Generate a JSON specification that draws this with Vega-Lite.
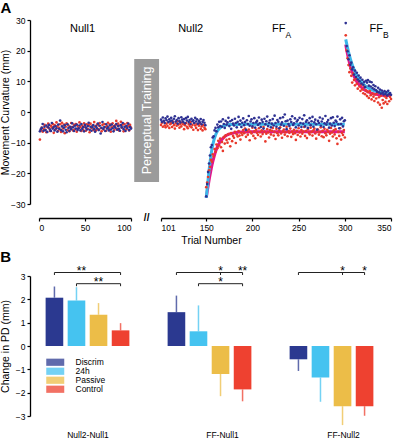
{
"$schema": "https://vega.github.io/schema/vega-lite/v6.json",
"padding": {"left": 0, "top": 1, "right": 2, "bottom": 0},
"config": {"font": "Liberation Sans", "view": {"stroke": null}, "axis": {"grid": false, "domainColor": "#000", "tickColor": "#000", "labelColor": "#000", "titleColor": "#000", "labelFontSize": 8.5, "titleFontSize": 10.5, "titleFontWeight": "normal", "domainWidth": 1.3, "tickWidth": 1.2, "tickSize": 3, "labelOverlap": false, "labelPadding": 2}},
"spacing": 3,
"datasets": {
"trials": [
{"t":1,"discrim":-6.3,"control":-9.0},{"t":2,"discrim":-5.6,"control":-6.0},{"t":3,"discrim":-5.2,"control":-5.1},{"t":4,"discrim":-3.9,"control":-6.4},{"t":5,"discrim":-6.1,"control":-5.5},{"t":6,"discrim":-4.8,"control":-4.2},{"t":7,"discrim":-5.9,"control":-5.8},{"t":8,"discrim":-4.4,"control":-6.6},{"t":9,"discrim":-6.5,"control":-4.9},{"t":10,"discrim":-5.0,"control":-3.8},
{"t":11,"discrim":-4.2,"control":-5.3},{"t":12,"discrim":-5.7,"control":-6.2},{"t":13,"discrim":-6.2,"control":-4.5},{"t":14,"discrim":-3.6,"control":-5.0},{"t":15,"discrim":-5.4,"control":-3.9},{"t":16,"discrim":-4.9,"control":-6.8},{"t":17,"discrim":-6.0,"control":-4.3},{"t":18,"discrim":-4.6,"control":-5.6},{"t":19,"discrim":-5.3,"control":-3.4},{"t":20,"discrim":-6.4,"control":-4.7},
{"t":21,"discrim":-4.1,"control":-6.1},{"t":22,"discrim":-5.5,"control":-5.2},{"t":23,"discrim":-2.8,"control":-4.0},{"t":24,"discrim":-5.9,"control":-6.5},{"t":25,"discrim":-4.7,"control":-3.5},{"t":26,"discrim":-6.3,"control":-5.4},{"t":27,"discrim":-5.1,"control":-4.1},{"t":28,"discrim":-4.3,"control":-6.9},{"t":29,"discrim":-5.8,"control":-4.8},{"t":30,"discrim":-6.6,"control":-3.7},
{"t":31,"discrim":-4.0,"control":-5.9},{"t":32,"discrim":-5.2,"control":-4.4},{"t":33,"discrim":-6.1,"control":-6.3},{"t":34,"discrim":-4.8,"control":-5.1},{"t":35,"discrim":-5.6,"control":-3.6},{"t":36,"discrim":-3.7,"control":-4.9},{"t":37,"discrim":-5.0,"control":-6.0},{"t":38,"discrim":-6.2,"control":-4.2},{"t":39,"discrim":-4.5,"control":-5.7},{"t":40,"discrim":-5.4,"control":-3.9},
{"t":41,"discrim":-4.1,"control":-6.4},{"t":42,"discrim":-5.9,"control":-4.6},{"t":43,"discrim":-5.3,"control":-5.3},{"t":44,"discrim":-4.4,"control":-3.4},{"t":45,"discrim":-6.0,"control":-5.0},{"t":46,"discrim":-3.9,"control":-6.2},{"t":47,"discrim":-5.5,"control":-4.4},{"t":48,"discrim":-4.9,"control":-5.8},{"t":49,"discrim":-6.3,"control":-3.7},{"t":50,"discrim":-4.2,"control":-4.9},
{"t":51,"discrim":-5.1,"control":-6.1},{"t":52,"discrim":-5.7,"control":-4.0},{"t":53,"discrim":-4.6,"control":-5.5},{"t":54,"discrim":-3.5,"control":-4.3},{"t":55,"discrim":-5.8,"control":-6.6},{"t":56,"discrim":-4.8,"control":-3.8},{"t":57,"discrim":-6.1,"control":-5.2},{"t":58,"discrim":-5.0,"control":-4.5},{"t":59,"discrim":-4.3,"control":-5.9},{"t":60,"discrim":-5.6,"control":-3.3},
{"t":61,"discrim":-6.4,"control":-4.8},{"t":62,"discrim":-4.7,"control":-6.0},{"t":63,"discrim":-5.3,"control":-4.1},{"t":64,"discrim":-3.8,"control":-5.6},{"t":65,"discrim":-5.9,"control":-4.4},{"t":66,"discrim":-4.5,"control":-3.6},{"t":67,"discrim":-7.0,"control":-5.3},{"t":68,"discrim":-5.2,"control":-6.3},{"t":69,"discrim":-3.3,"control":-4.2},{"t":70,"discrim":-5.5,"control":-5.7},
{"t":71,"discrim":-4.9,"control":-3.9},{"t":72,"discrim":-6.2,"control":-4.9},{"t":73,"discrim":-4.0,"control":-6.1},{"t":74,"discrim":-5.4,"control":-4.6},{"t":75,"discrim":-5.0,"control":-3.5},{"t":76,"discrim":-6.0,"control":-5.4},{"t":77,"discrim":-4.4,"control":-4.0},{"t":78,"discrim":-5.7,"control":-6.4},{"t":79,"discrim":-4.1,"control":-5.0},{"t":80,"discrim":-5.3,"control":-3.7},
{"t":81,"discrim":-6.3,"control":-4.7},{"t":82,"discrim":-4.7,"control":-5.8},{"t":83,"discrim":-5.1,"control":-4.3},{"t":84,"discrim":-3.9,"control":-2.9},{"t":85,"discrim":-5.8,"control":-5.5},{"t":86,"discrim":-4.6,"control":-3.8},{"t":87,"discrim":-5.5,"control":-6.0},{"t":88,"discrim":-6.1,"control":-4.4},{"t":89,"discrim":-4.3,"control":-3.2},{"t":90,"discrim":-5.0,"control":-5.1},
{"t":91,"discrim":-3.6,"control":-4.1},{"t":92,"discrim":-5.6,"control":-6.3},{"t":93,"discrim":-4.8,"control":-3.9},{"t":94,"discrim":-6.2,"control":-4.8},{"t":95,"discrim":-4.5,"control":-5.6},{"t":96,"discrim":-5.2,"control":-3.6},{"t":97,"discrim":-3.8,"control":-4.6},{"t":98,"discrim":-5.9,"control":-6.0},{"t":99,"discrim":-4.9,"control":-4.2},{"t":100,"discrim":-5.4,"control":-5.1},
{"t":101,"discrim":-2.5,"control":-4.2},{"t":102,"discrim":-3.2,"control":-3.5},{"t":103,"discrim":-1.8,"control":-4.8},{"t":104,"discrim":-2.9,"control":-3.1},{"t":105,"discrim":-3.6,"control":-4.4},{"t":106,"discrim":-2.1,"control":-5.0},{"t":107,"discrim":-2.7,"control":-3.8},{"t":108,"discrim":-1.5,"control":-4.6},{"t":109,"discrim":-3.3,"control":-3.3},{"t":110,"discrim":-2.4,"control":-5.2},
{"t":111,"discrim":-3.0,"control":-4.0},{"t":112,"discrim":-1.9,"control":-3.6},{"t":113,"discrim":-2.8,"control":-4.9},{"t":114,"discrim":-3.5,"control":-3.2},{"t":115,"discrim":-2.2,"control":-4.3},{"t":116,"discrim":-1.4,"control":-5.4},{"t":117,"discrim":-3.1,"control":-3.7},{"t":118,"discrim":-2.6,"control":-4.5},{"t":119,"discrim":-3.8,"control":-3.0},{"t":120,"discrim":-2.0,"control":-4.1},
{"t":121,"discrim":-2.9,"control":-5.1},{"t":122,"discrim":-3.4,"control":-3.9},{"t":123,"discrim":-1.7,"control":-4.7},{"t":124,"discrim":-2.5,"control":-3.4},{"t":125,"discrim":-3.2,"control":-4.0},{"t":126,"discrim":-2.3,"control":-5.6},{"t":127,"discrim":-3.7,"control":-4.3},{"t":128,"discrim":-2.0,"control":-3.6},{"t":129,"discrim":-2.8,"control":-4.8},{"t":130,"discrim":-1.6,"control":-5.3},
{"t":131,"discrim":-3.3,"control":-3.9},{"t":132,"discrim":-2.6,"control":-4.6},{"t":133,"discrim":-3.9,"control":-3.3},{"t":134,"discrim":-2.2,"control":-5.0},{"t":135,"discrim":-3.0,"control":-4.2},{"t":136,"discrim":-2.7,"control":-5.8},{"t":137,"discrim":-3.6,"control":-3.7},{"t":138,"discrim":-1.9,"control":-4.4},{"t":139,"discrim":-3.1,"control":-5.2},{"t":140,"discrim":-2.4,"control":-4.0},
{"t":141,"discrim":-3.8,"control":-5.9},{"t":142,"discrim":-2.9,"control":-4.5},{"t":143,"discrim":-3.4,"control":-3.8},{"t":144,"discrim":-2.3,"control":-5.5},{"t":145,"discrim":-4.0,"control":-4.7},{"t":146,"discrim":-3.2,"control":-6.0},{"t":147,"discrim":-2.6,"control":-4.3},{"t":148,"discrim":-3.5,"control":-5.1},{"t":149,"discrim":-4.3,"control":-5.6},
{"t":150,"discrim":-27.5,"control":-24.5},{"t":151,"discrim":-23.5,"control":-23.0},{"t":152,"discrim":-19.6,"control":-21.2},{"t":153,"discrim":-16.8,"control":-19.0},{"t":154,"discrim":-14.2,"control":-17.9},{"t":155,"discrim":-11.5,"control":-15.6},{"t":156,"discrim":-10.8,"control":-16.2},{"t":157,"discrim":-8.3,"control":-13.8},{"t":158,"discrim":-7.9,"control":-14.5},{"t":159,"discrim":-6.0,"control":-12.1},
{"t":160,"discrim":-5.2,"control":-13.0},{"t":161,"discrim":-6.3,"control":-10.6},{"t":162,"discrim":-4.1,"control":-11.8},{"t":163,"discrim":-5.0,"control":-9.4},{"t":164,"discrim":-3.2,"control":-10.9},{"t":165,"discrim":-4.6,"control":-8.7},{"t":166,"discrim":-3.1,"control":-11.5},{"t":167,"discrim":-4.8,"control":-9.8},{"t":168,"discrim":-2.4,"control":-12.7},{"t":169,"discrim":-3.9,"control":-8.2},
{"t":170,"discrim":-5.2,"control":-10.3},{"t":171,"discrim":-2.9,"control":-7.6},{"t":172,"discrim":-4.1,"control":-9.1},{"t":173,"discrim":-3.4,"control":-10.0},{"t":174,"discrim":-1.9,"control":-7.2},{"t":175,"discrim":-4.6,"control":-8.8},{"t":176,"discrim":-3.0,"control":-11.2},{"t":177,"discrim":-5.5,"control":-6.9},{"t":178,"discrim":-2.6,"control":-9.5},{"t":179,"discrim":-3.8,"control":-7.8},
{"t":180,"discrim":-4.4,"control":-8.4},{"t":181,"discrim":-2.2,"control":-6.5},{"t":182,"discrim":-3.6,"control":-10.1},{"t":183,"discrim":-5.0,"control":-7.3},{"t":184,"discrim":-3.2,"control":-8.0},{"t":185,"discrim":-1.6,"control":-6.2},{"t":186,"discrim":-4.0,"control":-7.7},{"t":187,"discrim":-2.8,"control":-9.0},{"t":188,"discrim":-4.9,"control":-6.8},{"t":189,"discrim":-3.5,"control":-7.5},
{"t":190,"discrim":-2.1,"control":-5.9},{"t":191,"discrim":-4.3,"control":-6.9},{"t":192,"discrim":-3.3,"control":-5.4},{"t":193,"discrim":-5.8,"control":-8.1},{"t":194,"discrim":-2.7,"control":-6.2},{"t":195,"discrim":-3.9,"control":-7.4},{"t":196,"discrim":-1.3,"control":-5.7},{"t":197,"discrim":-4.5,"control":-9.2},{"t":198,"discrim":-3.1,"control":-6.5},{"t":199,"discrim":-2.4,"control":-7.0},
{"t":200,"discrim":-4.7,"control":-5.1},{"t":201,"discrim":-3.6,"control":-7.8},{"t":202,"discrim":-2.0,"control":-6.3},{"t":203,"discrim":-5.1,"control":-8.6},{"t":204,"discrim":-3.4,"control":-5.8},{"t":205,"discrim":-2.9,"control":-6.8},{"t":206,"discrim":-4.2,"control":-7.5},{"t":207,"discrim":-1.8,"control":-5.3},{"t":208,"discrim":-3.7,"control":-6.6},{"t":209,"discrim":-4.9,"control":-8.0},
{"t":210,"discrim":-2.5,"control":-6.0},{"t":211,"discrim":-3.3,"control":-7.2},{"t":212,"discrim":-5.4,"control":-4.9},{"t":213,"discrim":-2.2,"control":-6.4},{"t":214,"discrim":-4.0,"control":-9.6},{"t":215,"discrim":-3.0,"control":-7.1},{"t":216,"discrim":-1.5,"control":-5.6},{"t":217,"discrim":-4.6,"control":-6.7},{"t":218,"discrim":-3.5,"control":-8.3},{"t":219,"discrim":-2.7,"control":-5.9},
{"t":220,"discrim":-5.0,"control":-7.3},{"t":221,"discrim":-3.8,"control":-6.1},{"t":222,"discrim":-2.3,"control":-5.2},{"t":223,"discrim":-4.4,"control":-7.7},{"t":224,"discrim":-1.2,"control":-6.5},{"t":225,"discrim":-3.6,"control":-8.8},{"t":226,"discrim":-4.8,"control":-5.5},{"t":227,"discrim":-2.6,"control":-6.9},{"t":228,"discrim":-3.2,"control":-7.6},{"t":229,"discrim":-5.3,"control":-6.0},
{"t":230,"discrim":-2.0,"control":-5.0},{"t":231,"discrim":-4.1,"control":-7.0},{"t":232,"discrim":-3.4,"control":-8.4},{"t":233,"discrim":-1.7,"control":-6.3},{"t":234,"discrim":-4.5,"control":-5.7},{"t":235,"discrim":-0.8,"control":-7.4},{"t":236,"discrim":-3.0,"control":-6.6},{"t":237,"discrim":-5.6,"control":-4.8},{"t":238,"discrim":-2.8,"control":-7.9},{"t":239,"discrim":-3.9,"control":-6.2},
{"t":240,"discrim":-4.6,"control":-6.8},{"t":241,"discrim":-2.4,"control":-5.4},{"t":242,"discrim":-3.3,"control":-8.1},{"t":243,"discrim":-1.4,"control":-6.4},{"t":244,"discrim":-4.2,"control":-7.2},{"t":245,"discrim":-3.7,"control":-5.8},{"t":246,"discrim":-2.1,"control":-6.9},{"t":247,"discrim":-5.0,"control":-9.1},{"t":248,"discrim":-3.1,"control":-6.1},{"t":249,"discrim":-2.6,"control":-7.5},
{"t":250,"discrim":-4.4,"control":-5.3},{"t":251,"discrim":-1.9,"control":-6.7},{"t":252,"discrim":-3.6,"control":-8.0},{"t":253,"discrim":-4.9,"control":-5.9},{"t":254,"discrim":-2.3,"control":-7.1},{"t":255,"discrim":-3.8,"control":-6.4},{"t":256,"discrim":-1.1,"control":-4.9},{"t":257,"discrim":-4.7,"control":-7.8},{"t":258,"discrim":-3.2,"control":-6.2},{"t":259,"discrim":-2.7,"control":-8.5},
{"t":260,"discrim":-5.2,"control":-5.6},{"t":261,"discrim":-3.5,"control":-6.8},{"t":262,"discrim":-2.0,"control":-7.3},{"t":263,"discrim":-4.3,"control":-5.1},{"t":264,"discrim":-3.0,"control":-6.5},{"t":265,"discrim":-1.6,"control":-7.7},{"t":266,"discrim":-4.8,"control":-6.0},{"t":267,"discrim":-3.4,"control":-5.4},{"t":268,"discrim":-2.5,"control":-7.0},{"t":269,"discrim":-4.0,"control":-8.7},
{"t":270,"discrim":-5.7,"control":-6.3},{"t":271,"discrim":-2.9,"control":-5.7},{"t":272,"discrim":-3.6,"control":-7.4},{"t":273,"discrim":-1.8,"control":-6.6},{"t":274,"discrim":-4.5,"control":-5.0},{"t":275,"discrim":-3.1,"control":-7.9},{"t":276,"discrim":-2.2,"control":-6.1},{"t":277,"discrim":-4.9,"control":-8.2},{"t":278,"discrim":-3.7,"control":-5.5},{"t":279,"discrim":-1.3,"control":-6.9},
{"t":280,"discrim":-4.1,"control":-7.6},{"t":281,"discrim":-3.3,"control":-5.8},{"t":282,"discrim":-2.6,"control":-6.4},{"t":283,"discrim":-5.1,"control":-9.4},{"t":284,"discrim":-3.8,"control":-7.1},{"t":285,"discrim":-2.0,"control":-5.2},{"t":286,"discrim":-4.4,"control":-6.7},{"t":287,"discrim":-1.7,"control":-8.0},{"t":288,"discrim":-3.5,"control":-6.0},{"t":289,"discrim":-4.6,"control":-7.3},
{"t":290,"discrim":-2.8,"control":-5.6},{"t":291,"discrim":-3.2,"control":-8.6},{"t":292,"discrim":-1.5,"control":-10.4},{"t":293,"discrim":-4.0,"control":-6.5},{"t":294,"discrim":-5.3,"control":-7.8},{"t":295,"discrim":-2.4,"control":-5.3},{"t":296,"discrim":-3.9,"control":-9.0},{"t":297,"discrim":-1.9,"control":-6.8},{"t":298,"discrim":-4.7,"control":-7.5},{"t":299,"discrim":-3.0,"control":-5.9},
{"t":300,"discrim":-2.7,"control":-8.3},
{"t":301,"discrim":29.0,"control":25.0},{"t":302,"discrim":21.5,"control":20.0},{"t":303,"discrim":19.8,"control":17.5},{"t":304,"discrim":17.2,"control":15.3},{"t":305,"discrim":18.5,"control":13.0},{"t":306,"discrim":15.4,"control":14.2},{"t":307,"discrim":16.1,"control":11.8},{"t":308,"discrim":13.9,"control":9.6},{"t":309,"discrim":14.6,"control":12.5},{"t":310,"discrim":12.2,"control":10.4},
{"t":311,"discrim":13.5,"control":8.7},{"t":312,"discrim":11.4,"control":11.0},{"t":313,"discrim":12.8,"control":9.2},{"t":314,"discrim":10.6,"control":7.6},{"t":315,"discrim":11.9,"control":10.1},{"t":316,"discrim":10.0,"control":8.3},{"t":317,"discrim":11.2,"control":6.9},{"t":318,"discrim":9.3,"control":9.0},{"t":319,"discrim":10.5,"control":7.4},{"t":320,"discrim":8.9,"control":6.1},
{"t":321,"discrim":9.8,"control":8.2},{"t":322,"discrim":8.1,"control":5.8},{"t":323,"discrim":10.2,"control":7.0},{"t":324,"discrim":9.6,"control":5.2},{"t":325,"discrim":10.4,"control":6.5},{"t":326,"discrim":8.6,"control":4.6},{"t":327,"discrim":9.9,"control":6.8},{"t":328,"discrim":8.3,"control":5.5},{"t":329,"discrim":9.7,"control":4.1},{"t":330,"discrim":7.8,"control":6.0},
{"t":331,"discrim":8.8,"control":5.0},{"t":332,"discrim":7.4,"control":3.6},{"t":333,"discrim":8.4,"control":5.7},{"t":334,"discrim":7.1,"control":4.4},{"t":335,"discrim":6.6,"control":6.2},{"t":336,"discrim":7.9,"control":3.1},{"t":337,"discrim":6.4,"control":4.8},{"t":338,"discrim":7.3,"control":2.4},{"t":339,"discrim":6.0,"control":5.3},{"t":340,"discrim":7.0,"control":1.4},
{"t":341,"discrim":6.3,"control":3.9},{"t":342,"discrim":5.7,"control":2.8},{"t":343,"discrim":6.8,"control":5.1},{"t":344,"discrim":5.9,"control":3.3},{"t":345,"discrim":6.5,"control":4.6},{"t":346,"discrim":5.4,"control":2.6},{"t":347,"discrim":6.9,"control":5.6},{"t":348,"discrim":5.8,"control":3.5},{"t":349,"discrim":6.2,"control":4.9},{"t":350,"discrim":5.6,"control":4.2}
],
"fits": [
{"t":150,"phase":"FFA","discrim":-28.0,"control":-28.0},{"t":151,"phase":"FFA","discrim":-25.0,"control":-26.0},{"t":152,"phase":"FFA","discrim":-22.0,"control":-24.1},{"t":153,"phase":"FFA","discrim":-19.2,"control":-22.3},{"t":154,"phase":"FFA","discrim":-16.6,"control":-20.6},{"t":155,"phase":"FFA","discrim":-14.3,"control":-19.1},{"t":156,"phase":"FFA","discrim":-12.4,"control":-17.6},{"t":157,"phase":"FFA","discrim":-10.8,"control":-16.3},{"t":158,"phase":"FFA","discrim":-9.5,"control":-15.1},{"t":160,"phase":"FFA","discrim":-7.6,"control":-13.0},{"t":162,"phase":"FFA","discrim":-6.3,"control":-11.4},{"t":165,"phase":"FFA","discrim":-5.2,"control":-9.7},{"t":168,"phase":"FFA","discrim":-4.6,"control":-8.6},{"t":172,"phase":"FFA","discrim":-4.25,"control":-7.6},{"t":176,"phase":"FFA","discrim":-4.1,"control":-7.1},{"t":180,"phase":"FFA","discrim":-4.05,"control":-6.8},{"t":190,"phase":"FFA","discrim":-4.0,"control":-6.5},{"t":200,"phase":"FFA","discrim":-4.0,"control":-6.4},{"t":250,"phase":"FFA","discrim":-4.0,"control":-6.4},{"t":300,"phase":"FFA","discrim":-4.0,"control":-6.4},
{"t":301,"phase":"FFB","discrim":23.7,"control":22.0},{"t":302,"phase":"FFB","discrim":22.3,"control":20.3},{"t":303,"phase":"FFB","discrim":20.9,"control":18.8},{"t":304,"phase":"FFB","discrim":19.6,"control":17.4},{"t":306,"phase":"FFB","discrim":17.3,"control":15.0},{"t":308,"phase":"FFB","discrim":15.4,"control":13.1},{"t":310,"phase":"FFB","discrim":13.8,"control":11.6},{"t":313,"phase":"FFB","discrim":12.0,"control":9.9},{"t":316,"phase":"FFB","discrim":10.5,"control":8.7},{"t":320,"phase":"FFB","discrim":9.1,"control":7.5},{"t":325,"phase":"FFB","discrim":7.9,"control":6.6},{"t":330,"phase":"FFB","discrim":7.1,"control":6.0},{"t":335,"phase":"FFB","discrim":6.6,"control":5.7},{"t":340,"phase":"FFB","discrim":6.3,"control":5.5},{"t":345,"phase":"FFB","discrim":6.1,"control":5.4},{"t":350,"phase":"FFB","discrim":6.0,"control":5.4}
],
"phases": [
{"name":"Null1","sub":"","t":60.9,"v":27.2},
{"name":"Null2","sub":"","t":146.7,"v":27.2},
{"name":"FF","sub":"A","t":235.8,"v":27.2},
{"name":"FF","sub":"B","t":341.3,"v":27.2}
],
"gap": [{"label":"Perceptual Training","start":103.5,"end":130.5,"low":-22.8,"high":17.3,"t":117,"v":-2.75}],
"bars": [
{"g":"Null2-Null1","cond":"Discrim","mean":2.07,"bound":2.55},{"g":"Null2-Null1","cond":"24h","mean":1.95,"bound":2.52},{"g":"Null2-Null1","cond":"Passive","mean":1.34,"bound":1.84},{"g":"Null2-Null1","cond":"Control","mean":0.67,"bound":0.98},
{"g":"FF-Null1","cond":"Discrim","mean":1.45,"bound":2.16},{"g":"FF-Null1","cond":"24h","mean":0.63,"bound":1.74},{"g":"FF-Null1","cond":"Passive","mean":-1.2,"bound":-2.15},{"g":"FF-Null1","cond":"Control","mean":-1.86,"bound":-2.37},
{"g":"FF-Null2","cond":"Discrim","mean":-0.57,"bound":-1.07},{"g":"FF-Null2","cond":"24h","mean":-1.35,"bound":-2.39},{"g":"FF-Null2","cond":"Passive","mean":-2.58,"bound":-3.39},{"g":"FF-Null2","cond":"Control","mean":-2.58,"bound":-2.99}
],
"brackets": [
{"g":"Null2-Null1","from":"Discrim","to":"Control","level":3.15},{"g":"Null2-Null1","from":"24h","to":"Control","level":2.67},
{"g":"FF-Null1","from":"Discrim","to":"Control","level":3.15},{"g":"FF-Null1","from":"24h","to":"Control","level":2.67},
{"g":"FF-Null2","from":"Discrim","to":"Control","level":3.15}
],
"sig": [
{"g":"Null2-Null1","cond":"Discrim","level":3.15,"label":"","shift":false},{"g":"Null2-Null1","cond":"Control","level":3.15,"label":"","shift":false},{"g":"Null2-Null1","cond":"24h","level":2.67,"label":"","shift":false},{"g":"Null2-Null1","cond":"Control","level":2.67,"label":"","shift":false},
{"g":"Null2-Null1","cond":"24h","level":3.15,"label":"**","shift":true},{"g":"Null2-Null1","cond":"Passive","level":2.67,"label":"**","shift":false},
{"g":"FF-Null1","cond":"Discrim","level":3.15,"label":"","shift":false},{"g":"FF-Null1","cond":"Passive","level":3.15,"label":"","shift":false},{"g":"FF-Null1","cond":"Control","level":3.15,"label":"","shift":false},{"g":"FF-Null1","cond":"24h","level":2.67,"label":"","shift":false},{"g":"FF-Null1","cond":"Control","level":2.67,"label":"","shift":false},
{"g":"FF-Null1","cond":"Passive","level":3.15,"label":"*","shift":false},{"g":"FF-Null1","cond":"Control","level":3.15,"label":"**","shift":false},{"g":"FF-Null1","cond":"Passive","level":2.67,"label":"*","shift":false},
{"g":"FF-Null2","cond":"Discrim","level":3.15,"label":"","shift":false},{"g":"FF-Null2","cond":"Passive","level":3.15,"label":"","shift":false},{"g":"FF-Null2","cond":"Control","level":3.15,"label":"","shift":false},
{"g":"FF-Null2","cond":"Passive","level":3.15,"label":"*","shift":false},{"g":"FF-Null2","cond":"Control","level":3.15,"label":"*","shift":false}
]
},
"vconcat": [
{
"title": {"text": "A", "anchor": "start", "frame": "bounds", "fontSize": 15, "fontWeight": "bold", "offset": 0},
"bounds": "flush",
"spacing": 30,
"hconcat": [
{
"width": 92, "height": 184,
"layer": [
{"data": {"name": "gap"}, "mark": {"type": "rect", "color": "#9b9b9b"},
 "encoding": {"x": {"field": "start", "type": "quantitative", "scale": {"domain": [0, 100], "nice": false}, "axis": {"values": [0, 50, 100], "tickCount": 10, "format": "d", "offset": 14, "title": null}}, "x2": {"field": "end"}, "y": {"field": "low", "type": "quantitative", "scale": {"domain": [-30, 30], "nice": false}, "axis": {"values": [-30, -20, -10, 0, 10, 20, 30], "tickCount": 10, "format": "d", "offset": 9, "title": "Movement Curvature (mm)", "titlePadding": 0}}, "y2": {"field": "high"}}},
{"data": {"name": "gap"}, "mark": {"type": "text", "color": "white", "fontSize": 12.5, "angle": 270, "align": "center", "baseline": "middle"},
 "encoding": {"x": {"field": "t", "type": "quantitative"}, "y": {"field": "v", "type": "quantitative"}, "text": {"field": "label"}}},
{"data": {"name": "trials"}, "transform": [{"filter": "datum.t <= 100"}], "mark": {"type": "circle", "size": 7, "opacity": 1, "color": "#e8392b"},
 "encoding": {"x": {"field": "t", "type": "quantitative"}, "y": {"field": "control", "type": "quantitative"}}},
{"data": {"name": "trials"}, "transform": [{"filter": "datum.t <= 100"}], "mark": {"type": "circle", "size": 7, "opacity": 1, "color": "#2e3192"},
 "encoding": {"x": {"field": "t", "type": "quantitative"}, "y": {"field": "discrim", "type": "quantitative"}}},
{"data": {"name": "phases"}, "transform": [{"filter": "datum.t <= 100"}], "mark": {"type": "text", "fontSize": 11, "align": "right", "baseline": "middle"},
 "encoding": {"x": {"field": "t", "type": "quantitative"}, "y": {"field": "v", "type": "quantitative"}, "text": {"field": "name"}}},
{"data": {"name": "gap"}, "mark": {"type": "text", "fontSize": 10, "fontWeight": "bold", "align": "center", "baseline": "middle", "text": "//"},
 "encoding": {"x": {"datum": 117}, "y": {"datum": -34.6}}}
]
},
{
"width": 230, "height": 184,
"layer": [
{"data": {"name": "fits"}, "mark": {"type": "line", "color": "#e2168a", "strokeWidth": 3, "interpolate": "monotone"},
 "encoding": {"x": {"field": "t", "type": "quantitative", "scale": {"domain": [101, 350], "nice": false}, "axis": {"values": [101, 150, 200, 250, 300, 350], "tickCount": 10, "format": "d", "offset": 14, "title": "Trial Number", "titleX": 50, "titlePadding": 4}}, "y": {"field": "control", "type": "quantitative", "scale": {"domain": [-30, 30], "nice": false}, "axis": null}, "detail": {"field": "phase"}}},
{"data": {"name": "fits"}, "mark": {"type": "line", "color": "#3bb7e9", "strokeWidth": 3, "interpolate": "monotone"},
 "encoding": {"x": {"field": "t", "type": "quantitative"}, "y": {"field": "discrim", "type": "quantitative"}, "detail": {"field": "phase"}}},
{"data": {"name": "trials"}, "transform": [{"filter": "datum.t > 100"}], "mark": {"type": "circle", "size": 7, "opacity": 1, "color": "#e8392b"},
 "encoding": {"x": {"field": "t", "type": "quantitative"}, "y": {"field": "control", "type": "quantitative"}}},
{"data": {"name": "trials"}, "transform": [{"filter": "datum.t > 100"}], "mark": {"type": "circle", "size": 7, "opacity": 1, "color": "#2e3192"},
 "encoding": {"x": {"field": "t", "type": "quantitative"}, "y": {"field": "discrim", "type": "quantitative"}}},
{"data": {"name": "phases"}, "transform": [{"filter": "datum.t > 100"}], "mark": {"type": "text", "fontSize": 11, "align": "right", "baseline": "middle"},
 "encoding": {"x": {"field": "t", "type": "quantitative"}, "y": {"field": "v", "type": "quantitative"}, "text": {"field": "name"}}},
{"data": {"name": "phases"}, "transform": [{"filter": "datum.t > 100"}], "mark": {"type": "text", "fontSize": 8.5, "align": "left", "baseline": "middle", "dy": 6.5},
 "encoding": {"x": {"field": "t", "type": "quantitative"}, "y": {"field": "v", "type": "quantitative"}, "text": {"field": "sub"}}}
]
}
]
},
{
"title": {"text": "B", "anchor": "start", "frame": "bounds", "fontSize": 15, "fontWeight": "bold", "offset": 0},
"bounds": "flush",
"spacing": 25,
"resolve": {"scale": {"color": "independent"}, "legend": {"color": "independent"}},
"hconcat": [
{
"width": 97, "height": 140,
"layer": [
{"data": {"name": "bars"}, "transform": [{"filter": "datum.g === 'Null2-Null1'"}], "mark": {"type": "bar"},
 "encoding": {
  "x": {"field": "cond", "type": "nominal", "scale": {"domain": ["Discrim", "24h", "Passive", "Control"], "paddingInner": 0.2, "paddingOuter": 0.3}, "axis": {"title": "Null2-Null1", "labels": false, "ticks": false, "domain": false, "titlePadding": 14, "titleFontSize": 8.5}},
  "y": {"field": "mean", "type": "quantitative", "scale": {"domain": [-3, 3], "nice": false}, "axis": {"values": [-3, -2, -1, 0, 1, 2, 3], "tickCount": 10, "format": "d", "offset": 9, "title": "Change in PD (mm)", "titlePadding": 5}},
  "color": {"field": "cond", "type": "nominal", "scale": {"domain": ["Discrim", "24h", "Passive", "Control"], "range": ["#2b3990", "#45c3f0", "#ecbd48", "#ee4130"]},
   "legend": {"orient": "none", "legendX": 12, "legendY": 82, "title": null, "symbolType": "M-2.25,-0.9H2.25V0.9H-2.25Z", "symbolSize": 64, "symbolStrokeWidth": 0, "symbolOpacity": 1, "labelFontSize": 8.5, "labelOffset": 16, "rowPadding": 0, "padding": 0, "direction": "vertical"}}}},
{"data": {"name": "bars"}, "transform": [{"filter": "datum.g === 'Null2-Null1'"}], "mark": {"type": "rule", "strokeWidth": 1.5, "opacity": 0.75},
 "encoding": {"x": {"field": "cond", "type": "nominal"}, "y": {"field": "mean", "type": "quantitative"}, "y2": {"field": "bound"}, "color": {"field": "cond", "type": "nominal"}}},
{"data": {"name": "brackets"}, "transform": [{"filter": "datum.g === 'Null2-Null1'"}], "mark": {"type": "rule", "color": "#222", "strokeWidth": 1},
 "encoding": {"x": {"field": "from", "type": "nominal"}, "x2": {"field": "to"}, "y": {"field": "level", "type": "quantitative"}}},
{"data": {"name": "sig"}, "transform": [{"filter": "datum.g === 'Null2-Null1' && datum.label === ''"}], "mark": {"type": "rule", "color": "#222", "strokeWidth": 1, "y2Offset": 2.5},
 "encoding": {"x": {"field": "cond", "type": "nominal"}, "y": {"field": "level", "type": "quantitative"}, "y2": {"field": "level"}}},
{"data": {"name": "sig"}, "transform": [{"filter": "datum.g === 'Null2-Null1' && datum.label !== '' && !datum.shift"}], "mark": {"type": "text", "fontSize": 12, "baseline": "alphabetic", "dy": 2},
 "encoding": {"x": {"field": "cond", "type": "nominal"}, "y": {"field": "level", "type": "quantitative"}, "text": {"field": "label"}}},
{"data": {"name": "sig"}, "transform": [{"filter": "datum.g === 'Null2-Null1' && datum.shift"}], "mark": {"type": "text", "fontSize": 12, "baseline": "alphabetic", "dy": 2, "dx": 5},
 "encoding": {"x": {"field": "cond", "type": "nominal"}, "y": {"field": "level", "type": "quantitative"}, "text": {"field": "label"}}}
]
},
{
"width": 97, "height": 140,
"layer": [
{"data": {"name": "bars"}, "transform": [{"filter": "datum.g === 'FF-Null1'"}], "mark": {"type": "bar"},
 "encoding": {
  "x": {"field": "cond", "type": "nominal", "scale": {"domain": ["Discrim", "24h", "Passive", "Control"], "paddingInner": 0.2, "paddingOuter": 0.3}, "axis": {"title": "FF-Null1", "labels": false, "ticks": false, "domain": false, "titlePadding": 14, "titleFontSize": 8.5, "titleX": 61}},
  "y": {"field": "mean", "type": "quantitative", "scale": {"domain": [-3, 3], "nice": false}, "axis": null},
  "color": {"field": "cond", "type": "nominal", "scale": {"domain": ["Discrim", "24h", "Passive", "Control"], "range": ["#2b3990", "#45c3f0", "#ecbd48", "#ee4130"]}, "legend": null}}},
{"data": {"name": "bars"}, "transform": [{"filter": "datum.g === 'FF-Null1'"}], "mark": {"type": "rule", "strokeWidth": 1.5, "opacity": 0.75},
 "encoding": {"x": {"field": "cond", "type": "nominal"}, "y": {"field": "mean", "type": "quantitative"}, "y2": {"field": "bound"}, "color": {"field": "cond", "type": "nominal", "legend": null}}},
{"data": {"name": "brackets"}, "transform": [{"filter": "datum.g === 'FF-Null1'"}], "mark": {"type": "rule", "color": "#222", "strokeWidth": 1},
 "encoding": {"x": {"field": "from", "type": "nominal"}, "x2": {"field": "to"}, "y": {"field": "level", "type": "quantitative"}}},
{"data": {"name": "sig"}, "transform": [{"filter": "datum.g === 'FF-Null1' && datum.label === ''"}], "mark": {"type": "rule", "color": "#222", "strokeWidth": 1, "y2Offset": 2.5},
 "encoding": {"x": {"field": "cond", "type": "nominal"}, "y": {"field": "level", "type": "quantitative"}, "y2": {"field": "level"}}},
{"data": {"name": "sig"}, "transform": [{"filter": "datum.g === 'FF-Null1' && datum.label !== ''"}], "mark": {"type": "text", "fontSize": 12, "baseline": "alphabetic", "dy": 2},
 "encoding": {"x": {"field": "cond", "type": "nominal"}, "y": {"field": "level", "type": "quantitative"}, "text": {"field": "label"}}}
]
},
{
"width": 97, "height": 140,
"layer": [
{"data": {"name": "bars"}, "transform": [{"filter": "datum.g === 'FF-Null2'"}], "mark": {"type": "bar"},
 "encoding": {
  "x": {"field": "cond", "type": "nominal", "scale": {"domain": ["Discrim", "24h", "Passive", "Control"], "paddingInner": 0.2, "paddingOuter": 0.3}, "axis": {"title": "FF-Null2", "labels": false, "ticks": false, "domain": false, "titlePadding": 14, "titleFontSize": 8.5, "titleX": 60}},
  "y": {"field": "mean", "type": "quantitative", "scale": {"domain": [-3, 3], "nice": false}, "axis": null},
  "color": {"field": "cond", "type": "nominal", "scale": {"domain": ["Discrim", "24h", "Passive", "Control"], "range": ["#2b3990", "#45c3f0", "#ecbd48", "#ee4130"]}, "legend": null}}},
{"data": {"name": "bars"}, "transform": [{"filter": "datum.g === 'FF-Null2'"}], "mark": {"type": "rule", "strokeWidth": 1.5, "opacity": 0.75},
 "encoding": {"x": {"field": "cond", "type": "nominal"}, "y": {"field": "mean", "type": "quantitative"}, "y2": {"field": "bound"}, "color": {"field": "cond", "type": "nominal", "legend": null}}},
{"data": {"name": "brackets"}, "transform": [{"filter": "datum.g === 'FF-Null2'"}], "mark": {"type": "rule", "color": "#222", "strokeWidth": 1},
 "encoding": {"x": {"field": "from", "type": "nominal"}, "x2": {"field": "to"}, "y": {"field": "level", "type": "quantitative"}}},
{"data": {"name": "sig"}, "transform": [{"filter": "datum.g === 'FF-Null2' && datum.label === ''"}], "mark": {"type": "rule", "color": "#222", "strokeWidth": 1, "y2Offset": 2.5},
 "encoding": {"x": {"field": "cond", "type": "nominal"}, "y": {"field": "level", "type": "quantitative"}, "y2": {"field": "level"}}},
{"data": {"name": "sig"}, "transform": [{"filter": "datum.g === 'FF-Null2' && datum.label !== ''"}], "mark": {"type": "text", "fontSize": 12, "baseline": "alphabetic", "dy": 2},
 "encoding": {"x": {"field": "cond", "type": "nominal"}, "y": {"field": "level", "type": "quantitative"}, "text": {"field": "label"}}}
]
}
]
}
]
}
